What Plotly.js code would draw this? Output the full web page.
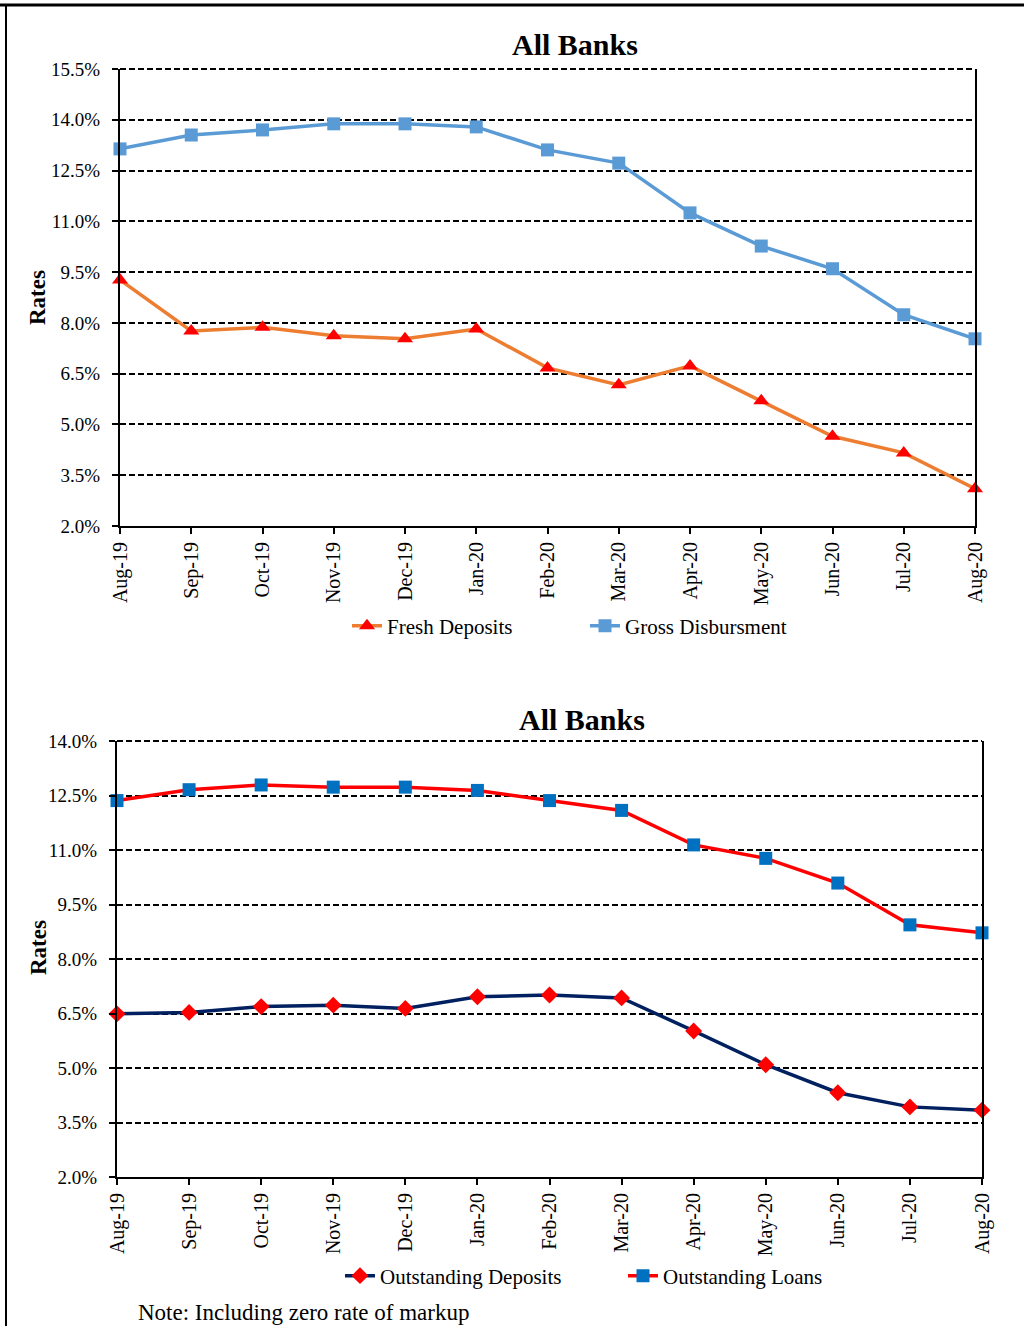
<!DOCTYPE html>
<html>
<head>
<meta charset="utf-8">
<script src="https://cdn.plot.ly/plotly-3.0.1.min.js"></script>
<style>
html,body{margin:0;padding:0;background:#fff;}
#chart{width:1024px;height:1326px;}
</style>
</head>
<body>
<div id="chart"></div>
<script>
// ---- data ----
var months = ["Aug-19","Sep-19","Oct-19","Nov-19","Dec-19","Jan-20","Feb-20","Mar-20","Apr-20","May-20","Jun-20","Jul-20","Aug-20"];
var freshDeposits = [9.27, 7.76, 7.87, 7.62, 7.53, 7.82, 6.67, 6.17, 6.73, 5.70, 4.65, 4.16, 3.10];
var grossDisbursement = [13.14, 13.55, 13.70, 13.88, 13.88, 13.79, 13.11, 12.72, 11.25, 10.27, 9.60, 8.24, 7.53];
var outstandingDeposits = [6.49, 6.53, 6.69, 6.73, 6.64, 6.96, 7.01, 6.93, 6.02, 5.09, 4.32, 3.93, 3.84];
var outstandingLoans = [12.36, 12.66, 12.79, 12.73, 12.73, 12.64, 12.36, 12.09, 11.14, 10.77, 10.09, 8.94, 8.72];
var chartTitle = "All Banks";
var yTitle = "Rates";
var noteText = "Note: Including zero rate of markup";
var topRange = [2, 15.5];
var bottomRange = [2, 14];

var SERIF = "Liberation Serif, Times New Roman, serif";
var W = 1024, H = 1326;
function px(x){ return x / W; }
function py(y){ return 1 - y / H; }

var topDomX = [px(120), px(975)], topDomY = [py(526), py(69)];
var botDomX = [px(117), px(982)], botDomY = [py(1177), py(741)];

var traces = [
  {x: months, y: freshDeposits, name: "Fresh Deposits", type: "scatter", mode: "lines+markers",
   xaxis: "x", yaxis: "y", legend: "legend", cliponaxis: false,
   line: {color: "#ED7D31", width: 3.5},
   marker: {symbol: "triangle-up", color: "#FF0000", size: 14}},
  {x: months, y: grossDisbursement, name: "Gross Disbursment", type: "scatter", mode: "lines+markers",
   xaxis: "x", yaxis: "y", legend: "legend", cliponaxis: false,
   line: {color: "#5B9BD5", width: 3.5},
   marker: {symbol: "square", color: "#5B9BD5", size: 13}},
  {x: months, y: outstandingDeposits, name: "Outstanding Deposits", type: "scatter", mode: "lines+markers",
   xaxis: "x2", yaxis: "y2", legend: "legend2", cliponaxis: false,
   line: {color: "#002060", width: 3.5},
   marker: {symbol: "diamond", color: "#FF0000", size: 13}},
  {x: months, y: outstandingLoans, name: "Outstanding Loans", type: "scatter", mode: "lines+markers",
   xaxis: "x2", yaxis: "y2", legend: "legend2", cliponaxis: false,
   line: {color: "#FF0000", width: 3.5},
   marker: {symbol: "square", color: "#0070C0", size: 13}}
];

function xAxis(domain, anchor){
  return {
    domain: domain, anchor: anchor, type: "category", range: [0, 12],
    showline: true, linecolor: "#000", linewidth: 2, mirror: false,
    ticks: "outside", ticklen: 6, tickwidth: 2, tickcolor: "#000",
    tickangle: -90, showgrid: false, zeroline: false,
    tickfont: {family: SERIF, size: 20, color: "#000"},
    fixedrange: true
  };
}
function yAxis(domain, anchor, range){
  return {
    domain: domain, anchor: anchor, range: range, dtick: 1.5, tick0: 2,
    tickformat: ".1f", ticksuffix: "%",
    showline: true, linecolor: "#000", linewidth: 2, mirror: true,
    ticks: "outside", ticklen: 6, tickwidth: 2, tickcolor: "#000",
    ticklabelstandoff: 8,
    showgrid: true, gridcolor: "#000", gridwidth: 2, griddash: "6px,3px",
    zeroline: false,
    tickfont: {family: SERIF, size: 19, color: "#000"},
    fixedrange: true
  };
}

var layout = {
  width: W, height: H,
  margin: {l: 0, r: 0, t: 0, b: 0},
  paper_bgcolor: "#fff", plot_bgcolor: "#fff",
  showlegend: true,
  xaxis: xAxis(topDomX, "y"),
  yaxis: yAxis(topDomY, "x", topRange),
  xaxis2: xAxis(botDomX, "y2"),
  yaxis2: yAxis(botDomY, "x2", bottomRange),
  legend: {orientation: "h", x: px(347), xanchor: "left", y: py(626), yanchor: "middle",
           entrywidth: 193, entrywidthmode: "pixels",
           font: {family: SERIF, size: 21, color: "#000"}, bgcolor: "rgba(0,0,0,0)"},
  legend2: {orientation: "h", x: px(340), xanchor: "left", y: py(1276), yanchor: "middle",
           entrywidth: 238, entrywidthmode: "pixels",
           font: {family: SERIF, size: 21, color: "#000"}, bgcolor: "rgba(0,0,0,0)"},
  annotations: [
    {text: "<b>" + chartTitle + "</b>", xref: "paper", yref: "paper", x: px(575), y: py(45),
     xanchor: "center", yanchor: "middle", showarrow: false, font: {family: SERIF, size: 30, color: "#000"}},
    {text: "<b>" + chartTitle + "</b>", xref: "paper", yref: "paper", x: px(582), y: py(719),
     xanchor: "center", yanchor: "middle", showarrow: false, font: {family: SERIF, size: 30, color: "#000"}},
    {text: "<b>" + yTitle + "</b>", xref: "paper", yref: "paper", x: px(37), y: py(298), textangle: -90,
     xanchor: "center", yanchor: "middle", showarrow: false, font: {family: SERIF, size: 23, color: "#000"}},
    {text: "<b>" + yTitle + "</b>", xref: "paper", yref: "paper", x: px(38), y: py(948), textangle: -90,
     xanchor: "center", yanchor: "middle", showarrow: false, font: {family: SERIF, size: 23, color: "#000"}},
    {text: noteText, xref: "paper", yref: "paper", x: px(136), y: py(1312),
     xanchor: "left", yanchor: "middle", showarrow: false, font: {family: SERIF, size: 23, color: "#000"}}
  ],
  shapes: [
    {type: "line", xref: "paper", yref: "paper", x0: 0, x1: 1, y0: py(5), y1: py(5),
     line: {color: "#000", width: 3}},
    {type: "line", xref: "paper", yref: "paper", x0: px(6), x1: px(6), y0: py(5), y1: 0,
     line: {color: "#000", width: 2}},
    {type: "line", xref: "paper", yref: "paper", x0: topDomX[0], x1: topDomX[1], y0: topDomY[1], y1: topDomY[1],
     line: {color: "#000", width: 2, dash: "6px,3px"}},
    {type: "line", xref: "paper", yref: "paper", x0: botDomX[0], x1: botDomX[1], y0: botDomY[1], y1: botDomY[1],
     line: {color: "#000", width: 2, dash: "6px,3px"}}
  ]
};

Plotly.newPlot("chart", traces, layout, {displayModeBar: false, staticPlot: true});
</script>
</body>
</html>
